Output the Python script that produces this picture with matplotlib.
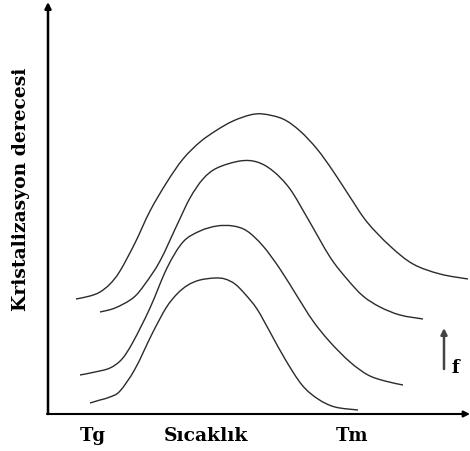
import matplotlib
matplotlib.use('Agg')
import matplotlib.pyplot as plt
from matplotlib.path import Path
from matplotlib.patches import PathPatch

# eğriler: (sıcaklık konumu, kristalizasyon derecesi), keyfi birimler
c1_x = [28, 42, 52, 62, 72, 87, 102, 119, 135, 152, 169, 185, 202, 215, 235, 252, 269,
        285, 302, 319, 342, 365, 392, 420]
c1_y = [115, 118, 122, 130, 143, 171, 203, 232, 255, 272, 284, 293, 299, 300, 295, 283, 265,
        243, 217, 192, 168, 150, 140, 135]

c2_x = [52, 67, 85, 97, 112, 129, 142, 155, 169, 192, 209, 225, 242, 260, 282, 299, 315,
        332, 352, 375]
c2_y = [102, 106, 116, 130, 153, 189, 216, 235, 246, 253, 252, 243, 225, 195, 157, 135, 118,
        107, 99, 95]

c3_x = [32, 47, 62, 74, 85, 102, 119, 135, 152, 169, 185, 199, 215, 232, 249, 265, 282,
        302, 320, 337, 355]
c3_y = [39, 42, 46, 55, 72, 106, 146, 172, 183, 188, 188, 183, 168, 145, 118, 93, 72,
        52, 39, 33, 29]

c4_x = [42, 52, 62, 72, 87, 104, 118, 129, 140, 152, 167, 177, 187, 197, 209, 222, 237, 254,
        270, 287, 310]
c4_y = [11, 14, 17, 23, 45, 80, 106, 120, 129, 134, 136, 135, 130, 120, 105, 82, 55, 29,
        15, 7, 4]

curves = [(c1_x, c1_y), (c2_x, c2_y), (c3_x, c3_y), (c4_x, c4_y)]

ylabel = 'Kristalizasyon derecesi'
xlabel = 'Sıcaklık'
tick_names = ['Tg', 'Tm']
tick_pos = [45, 304]


def smooth_path(xs, ys):
    # Catmull-Rom noktalarından kübik Bezier yolu
    pts = list(zip(xs, ys))
    verts = [pts[0]]
    codes = [Path.MOVETO]
    n = len(pts)
    for i in range(n - 1):
        p0 = pts[max(i - 1, 0)]
        p1 = pts[i]
        p2 = pts[i + 1]
        p3 = pts[min(i + 2, n - 1)]
        b1 = (p1[0] + (p2[0] - p0[0]) / 6, p1[1] + (p2[1] - p0[1]) / 6)
        b2 = (p2[0] - (p3[0] - p1[0]) / 6, p2[1] - (p3[1] - p1[1]) / 6)
        verts += [b1, b2, p2]
        codes += [Path.CURVE4] * 3
    return Path(verts, codes)


fig = plt.figure(figsize=(4.70, 4.52), dpi=100)
ax = fig.add_axes([48 / 470, 37 / 452, 422 / 470, 415 / 452])
ax.set_xlim(0, 422)
ax.set_ylim(0, 415)
ax.axis('off')

for xs, ys in curves:
    ax.add_patch(PathPatch(smooth_path(xs, ys), facecolor='none',
                           edgecolor='#2b2b2b', lw=1.0))

# eksenler (oklu)
arrow = dict(arrowstyle='-|>', color='black', lw=1.8, mutation_scale=9,
             shrinkA=0, shrinkB=0)
ax.annotate('', xy=(0, 412), xytext=(0, 0), arrowprops=arrow, annotation_clip=False)
ax.annotate('', xy=(422, 0), xytext=(-1, 0),
            arrowprops=dict(arrow, lw=1.5), annotation_clip=False)

# f yönü
ax.annotate('', xy=(396, 86), xytext=(396, 45),
            arrowprops=dict(arrowstyle='-|>', color='#444444', lw=1.8,
                            mutation_scale=9, shrinkA=0, shrinkB=0))
ax.text(404, 42, 'f', fontsize=13, fontweight='bold', family='DejaVu Serif',
        ha='left', va='baseline')

font = dict(fontsize=13, fontweight='bold', family='DejaVu Serif')
for name, pos in zip(tick_names, tick_pos):
    ax.text(pos, -26, name, ha='center', va='baseline', clip_on=False, **font)
ax.text(158, -26, xlabel, fontsize=13.5, fontweight='bold', family='DejaVu Serif',
        ha='center', va='baseline', clip_on=False)
ax.text(-27, 226, ylabel, rotation=90, fontsize=13.5, fontweight='bold',
        family='DejaVu Serif', ha='center', va='center', clip_on=False)

fig.savefig('out.png', dpi=100)
